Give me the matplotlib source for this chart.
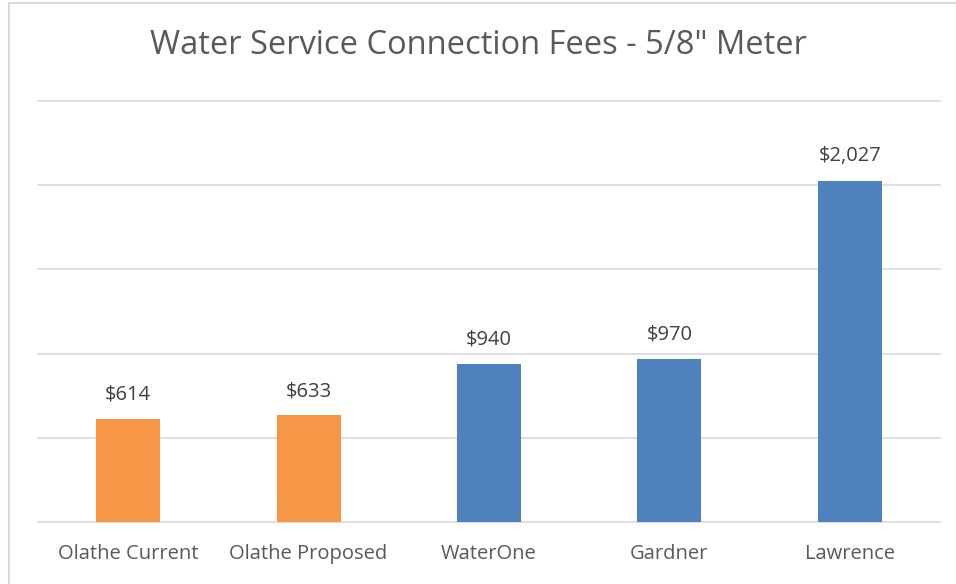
import matplotlib.pyplot as plt
from matplotlib.patches import Rectangle

categories = ['Olathe Current', 'Olathe Proposed', 'WaterOne', 'Gardner', 'Lawrence']
fees = [614, 633, 940, 970, 2027]
bar_colors = ['#F79646', '#F79646', '#4F81BD', '#4F81BD', '#4F81BD']
y_ticks = [0, 500, 1000, 1500, 2000, 2500]

plt.rcParams['font.family'] = ['Open Sans', 'DejaVu Sans']

fig = plt.figure(figsize=(9.56, 5.84), dpi=100)
ax = fig.add_axes([38 / 956, 1 - 522 / 584, 902 / 956, 421 / 584])

x = range(len(categories))
bars = ax.bar(x, fees, width=0.355, color=bar_colors, zorder=3)
for b, v in zip(bars, fees):
    ax.text(b.get_x() + b.get_width() / 2, v + 85, f'${v:,}',
            ha='center', va='bottom', fontsize=14.5, color='#404040')

ax.set_xlim(-0.5, len(categories) - 0.5)
ax.set_ylim(0, 2500)
# gridlines drawn by hand so the top one is not clipped
for t in y_ticks[1:]:
    ax.axhline(t, color='#D9D9D9', linewidth=1.2, zorder=0, clip_on=False)
ax.set_yticks([])
ax.tick_params(axis='both', length=0)
ax.set_xticks(list(x))
ax.set_xticklabels(categories, fontsize=14.5, color='#595959')
ax.tick_params(axis='x', pad=16)
for s in ['top', 'right', 'left']:
    ax.spines[s].set_visible(False)
ax.spines['bottom'].set_color('#D9D9D9')
ax.spines['bottom'].set_linewidth(1.2)

fig.text(0.5, 1 - 46 / 584, 'Water Service Connection Fees - 5/8" Meter',
         ha='center', va='center', fontsize=23.5, color='#595959')

# chart border
fig.patches.append(Rectangle((8.5 / 956, -0.1), 1.2, 1 - 2.5 / 584 + 0.1,
                             transform=fig.transFigure, fill=False,
                             edgecolor='#D9D9D9', linewidth=1.5))

fig.savefig('out.png', dpi=100)
